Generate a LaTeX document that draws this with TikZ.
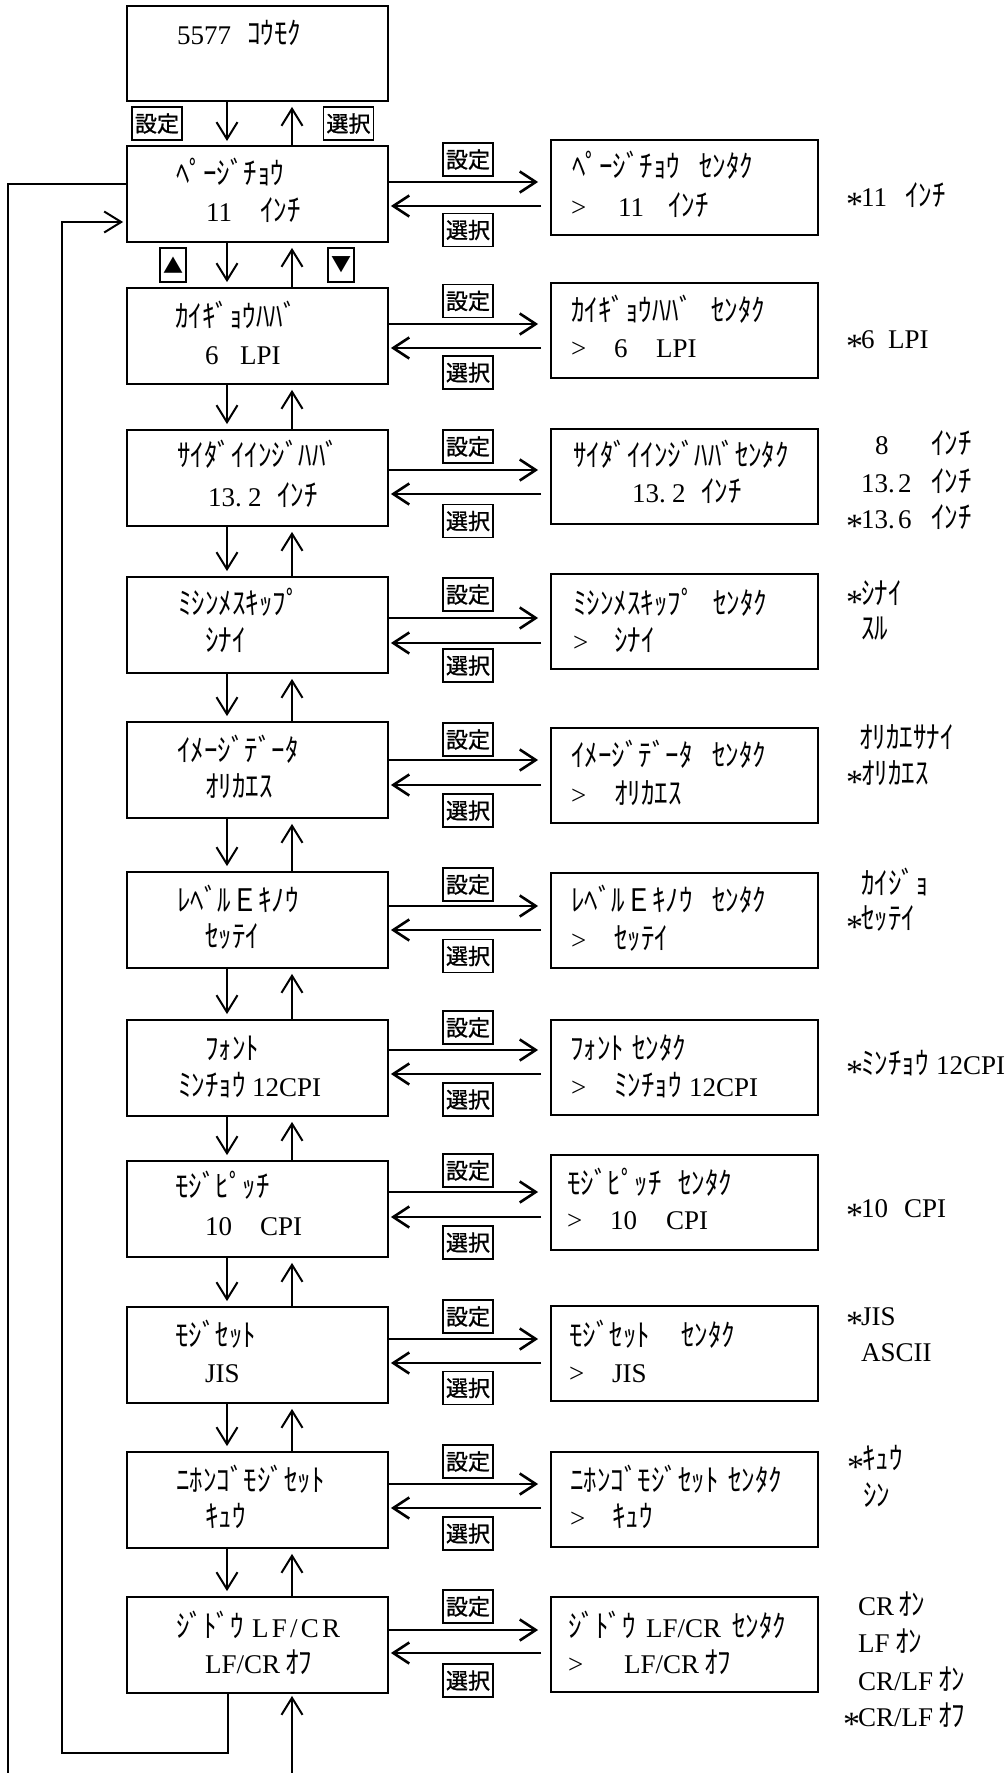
\documentclass[tikz,border=0pt]{standalone}
\usepackage{fontspec}
\setmainfont{Liberation Serif}
\newfontfamily\jp[FakeStretch=0.87]{Noto Sans CJK JP}
\newfontfamily\jpb[FakeBold=1]{Noto Sans CJK JP}
\newfontfamily\jpt{Noto Sans CJK JP}
\usetikzlibrary{arrows.meta}
\newcommand\kana[1]{{\jp\fontsize{31}{31}\selectfont #1}}
\newcommand\cell[2]{\makebox[#1pt][l]{#2}}
\newcommand\st{\cell{15}{\raisebox{-9pt}{\fontsize{34}{34}\selectfont *}}}
\newcommand\wide[1]{{\addfontfeature{LetterSpace=12}#1}}
\begin{document}
\begin{tikzpicture}[x=1pt,y=-1pt,
  box/.style={draw,line width=1.8pt,inner sep=0pt},
  lbox/.style={box,minimum width=261pt,minimum height=96pt},
  rbox/.style={box,minimum width=267pt,minimum height=95pt},
  lab/.style={draw,line width=1.6pt,inner sep=0pt,minimum width=50pt,minimum height=33pt,font=\jpb\fontsize{22}{22}\selectfont},
  tri/.style={draw,line width=1.6pt,inner sep=0pt,minimum width=26pt,minimum height=34pt,font=\jpt\fontsize{20}{20}\selectfont},
  txt/.style={anchor=base west,inner sep=0pt,font=\fontsize{27}{27}\selectfont},
  varr/.style={line width=2pt,-{Straight Barb[length=17pt,width=21pt]},shorten >=5pt},
  harr/.style={line width=2.6pt,-{Straight Barb[length=16pt,width=21pt]}},
  conn/.style={line width=2pt},
]
\fill[white] (0,0) rectangle (1006,1773);
\useasboundingbox (0,0) rectangle (1006,1773);

% top box
\node[box,minimum width=261pt,minimum height=95pt] (T) at (257.5,53.5) {};
\node[txt] (Ta) at (177,44) {\cell{70}{5577}\kana{ｺｳﾓｸ}};
\node[lab] (TS) at (157,123.5) {設定};
\node[lab] (TC) at (348.5,123.5) {選択};
\node[tri] (Up) at (173,265) {▲};
\node[tri] (Dn) at (341,265) {▼};
\draw[varr] ([xshift=-30.5pt]T.south) -- ([xshift=-30.5pt]T.south |- 0,146);
\draw[varr] ([xshift=34.5pt]T.south |- 0,146) -- ([xshift=34.5pt]T.south);

% rows: boxes, labels, horizontal arrows
\foreach \i/\lc/\rc/\s/\c/\a/\b in {
  1/194/187.5/159.5/230/182/206,
  2/336/330.5/301/372.5/324/348,
  3/478/476.5/446.5/521/470/494,
  4/625/621.5/594.5/665.5/618/643,
  5/770/775.5/739.5/810.5/760/785,
  6/920/920.5/884.5/956/906/930,
  7/1068/1067.5/1027.5/1099.5/1050/1074,
  8/1209/1202.5/1170.5/1242.5/1192/1217,
  9/1355/1353.5/1316.5/1388/1339/1363,
  10/1500/1499.5/1461.5/1533.5/1484/1508,
  11/1645/1644.5/1606.5/1680.5/1630/1653}{
  \node[lbox] (L\i) at (257.5,\lc) {};
  \node[rbox] (R\i) at (684.5,\rc) {};
  \node[lab] (S\i) at (468,\s) {設定};
  \node[lab] (C\i) at (468,\c) {選択};
  \draw[harr,shorten >=12pt] (L\i.east |- 0,\a) -- (R\i.west |- 0,\a);
  \draw[harr,shorten <=9pt,shorten >=2pt] (R\i.west |- 0,\b) -- (L\i.east |- 0,\b);
}
% vertical arrows between rows
\foreach \i [evaluate=\i as \j using int(\i+1)] in {1,...,10}{
  \draw[varr] ([xshift=-30.5pt]L\i.south) -- ([xshift=-30.5pt]L\j.north);
  \draw[varr] ([xshift=34.5pt]L\j.north) -- ([xshift=34.5pt]L\i.south);
}

% loops on the left and bottom
\coordinate (oT) at (8,184);
\coordinate (oB) at (8,1773);
\coordinate (iB) at (62,1753);
\coordinate (uB) at (292,1773);
\draw[conn] (L1.west |- oT) -- (oT) -- (oB);
\draw[conn,-{Straight Barb[length=17pt,width=21pt]},shorten >=3pt] ([xshift=-29.5pt]L11.south) |- (iB) |- (L1.west |- 0,222);
\draw[varr,shorten >=2pt] (uB) -- ([xshift=34.5pt]L11.south);

% row 1
\node[txt] (L1a) at (176,184) {\kana{ﾍﾟｰｼﾞﾁｮｳ}};
\node[txt] (L1b) at (206,221) {\cell{54}{11}\kana{ｲﾝﾁ}};
\node[txt] (R1a) at (572,177) {\kana{\cell{127}{ﾍﾟｰｼﾞﾁｮｳ}ｾﾝﾀｸ}};
\node[txt] (R1b) at (571,216) {\cell{47}{>}\cell{50}{11}\kana{ｲﾝﾁ}};
\node[txt] (V1a) at (846,206) {\st\cell{44}{11}\kana{ｲﾝﾁ}};
% row 2
\node[txt] (L2a) at (175,327) {\kana{ｶｲｷﾞｮｳﾊﾊﾞ}};
\node[txt] (L2b) at (205,364) {\cell{35}{6}LPI};
\node[txt] (R2a) at (571,321) {\kana{\cell{140}{ｶｲｷﾞｮｳﾊﾊﾞ}ｾﾝﾀｸ}};
\node[txt] (R2b) at (571,357) {\cell{43}{>}\cell{42}{6}LPI};
\node[txt] (V2a) at (846,348) {\st\cell{27}{6}LPI};
% row 3
\node[txt] (L3a) at (177,466) {\kana{ｻｲﾀﾞｲｲﾝｼﾞﾊﾊﾞ}};
\node[txt] (L3b) at (208,506) {\cell{40}{13.}\cell{29}{2}\kana{ｲﾝﾁ}};
\node[txt] (R3a) at (573,466) {\kana{ｻｲﾀﾞｲｲﾝｼﾞﾊﾊﾞｾﾝﾀｸ}};
\node[txt] (R3b) at (632,502) {\cell{40}{13.}\cell{29}{2}\kana{ｲﾝﾁ}};
\node[txt] (V3a) at (861,454) {\cell{70}{\hspace{14pt}8}\kana{ｲﾝﾁ}};
\node[txt] (V3b) at (861,492) {\cell{37}{13.}\cell{33}{2}\kana{ｲﾝﾁ}};
\node[txt] (V3c) at (846,528) {\st\cell{37}{13.}\cell{33}{6}\kana{ｲﾝﾁ}};
% row 4
\node[txt] (L4a) at (178,614) {\kana{ﾐｼﾝﾒｽｷｯﾌﾟ}};
\node[txt] (L4b) at (205,651) {\kana{ｼﾅｲ}};
\node[txt] (R4a) at (573,614) {\kana{\cell{140}{ﾐｼﾝﾒｽｷｯﾌﾟ}ｾﾝﾀｸ}};
\node[txt] (R4b) at (573,651) {\cell{41}{>}\kana{ｼﾅｲ}};
\node[txt] (V4a) at (846,604) {\st\kana{ｼﾅｲ}};
\node[txt] (V4b) at (861,639) {\kana{ｽﾙ}};
% row 5
\node[txt] (L5a) at (177,761) {\kana{ｲﾒｰｼﾞﾃﾞｰﾀ}};
\node[txt] (L5b) at (205,797) {\kana{ｵﾘｶｴｽ}};
\node[txt] (R5a) at (571,766) {\kana{\cell{141}{ｲﾒｰｼﾞﾃﾞｰﾀ}ｾﾝﾀｸ}};
\node[txt] (R5b) at (571,804) {\cell{43}{>}\kana{ｵﾘｶｴｽ}};
\node[txt] (V5a) at (859,748) {\kana{ｵﾘｶｴｻﾅｲ}};
\node[txt] (V5b) at (846,784) {\st\kana{ｵﾘｶｴｽ}};
% row 6
\node[txt] (L6a) at (177,911) {\kana{ﾚﾍﾞﾙＥｷﾉｳ}};
\node[txt] (L6b) at (205,947) {\kana{ｾｯﾃｲ}};
\node[txt] (R6a) at (571,911) {\kana{\cell{141}{ﾚﾍﾞﾙＥｷﾉｳ}ｾﾝﾀｸ}};
\node[txt] (R6b) at (571,949) {\cell{43}{>}\kana{ｾｯﾃｲ}};
\node[txt] (V6a) at (861,894) {\kana{ｶｲｼﾞｮ}};
\node[txt] (V6b) at (846,929) {\st\kana{ｾｯﾃｲ}};
% row 7
\node[txt] (L7a) at (205,1059) {\kana{ﾌｫﾝﾄ}};
\node[txt] (L7b) at (178,1096) {\cell{74}{\kana{ﾐﾝﾁｮｳ}}12CPI};
\node[txt] (R7a) at (570,1059) {\kana{\cell{62}{ﾌｫﾝﾄ}ｾﾝﾀｸ}};
\node[txt] (R7b) at (571,1096) {\cell{43}{>}\cell{75}{\kana{ﾐﾝﾁｮｳ}}12CPI};
\node[txt] (V7a) at (846,1074) {\st\cell{75}{\kana{ﾐﾝﾁｮｳ}}12CPI};
% row 8
\node[txt] (L8a) at (175,1197) {\kana{ﾓｼﾞﾋﾟｯﾁ}};
\node[txt] (L8b) at (205,1235) {\cell{55}{10}CPI};
\node[txt] (R8a) at (567,1194) {\kana{\cell{111}{ﾓｼﾞﾋﾟｯﾁ}ｾﾝﾀｸ}};
\node[txt] (R8b) at (567,1229) {\cell{43}{>}\cell{56}{10}CPI};
\node[txt] (V8a) at (846,1217) {\st\cell{43}{10}CPI};
% row 9
\node[txt] (L9a) at (175,1346) {\kana{ﾓｼﾞｾｯﾄ}};
\node[txt] (L9b) at (205,1382) {JIS};
\node[txt] (R9a) at (569,1346) {\kana{\cell{112}{ﾓｼﾞｾｯﾄ}ｾﾝﾀｸ}};
\node[txt] (R9b) at (569,1382) {\cell{43}{>}JIS};
\node[txt] (V9a) at (846,1325) {\st JIS};
\node[txt] (V9b) at (861,1361) {ASCII};
% row 10
\node[txt] (L10a) at (176,1491) {\kana{ﾆﾎﾝｺﾞﾓｼﾞｾｯﾄ}};
\node[txt] (L10b) at (205,1527) {\kana{ｷｭｳ}};
\node[txt] (R10a) at (570,1491) {\kana{\cell{158}{ﾆﾎﾝｺﾞﾓｼﾞｾｯﾄ}ｾﾝﾀｸ}};
\node[txt] (R10b) at (570,1527) {\cell{42}{>}\kana{ｷｭｳ}};
\node[txt] (V10a) at (847,1469) {\st\kana{ｷｭｳ}};
\node[txt] (V10b) at (863,1506) {\kana{ｼﾝ}};
% row 11
\node[txt] (L11a) at (176,1637) {\cell{76}{\kana{ｼﾞﾄﾞｳ}}\wide{LF/CR}};
\node[txt] (L11b) at (205,1673) {\cell{80}{LF/CR}\kana{ｵﾌ}};
\node[txt] (R11a) at (568,1637) {\cell{78}{\kana{ｼﾞﾄﾞｳ}}\cell{86}{LF/CR}\kana{ｾﾝﾀｸ}};
\node[txt] (R11b) at (568,1673) {\cell{56}{>}\cell{80}{LF/CR}\kana{ｵﾌ}};
\node[txt] (V11a) at (858,1615) {\cell{40}{CR}\kana{ｵﾝ}};
\node[txt] (V11b) at (858,1652) {\cell{37}{LF}\kana{ｵﾝ}};
\node[txt] (V11c) at (858,1690) {\cell{80}{CR/LF}\kana{ｵﾝ}};
\node[txt] (V11d) at (843,1726) {\st\cell{80}{CR/LF}\kana{ｵﾌ}};
\end{tikzpicture}
\end{document}
